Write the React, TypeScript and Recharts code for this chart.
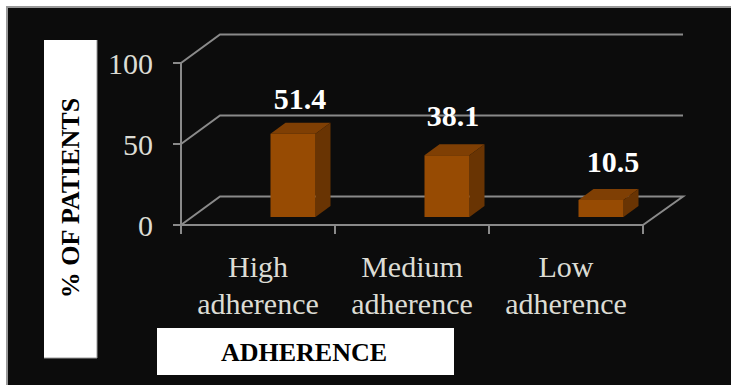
import React from 'react';
import {
  ComposedChart,
  Bar,
  XAxis,
  YAxis,
  CartesianGrid,
  LabelList,
} from 'recharts';

const categories = ['High adherence', 'Medium adherence', 'Low adherence'];
const patients = [51.4, 38.1, 10.5];
const yTicks = [0, 50, 100];

const data = categories.map((name, i) => ({ name, patients: patients[i] }));

const WIDTH = 731;
const HEIGHT = 385;
const PLOT = { left: 181, top: 63, width: 462, height: 162 };

// floor depth of the fake 3D box, and where the bars sit on that floor
const DEPTH_X = 39;
const DEPTH_Y = 28.5;
const BAR_SHIFT_X = 34.5;
const BAR_SHIFT_Y = -8;
const BAR_DEPTH_X = 15;
const BAR_DEPTH_Y = 11;

// the value labels were placed by hand, so each one has its own nudge
const LABEL_NUDGE = [
  [7, -25],
  [6, -29],
  [12, -28],
];

const SERIF = '"Liberation Serif", "Times New Roman", serif';
const GRID = '#8a8a8a';
const TEXT = '#dcdcd4';

function BackWallLine({ x1, y1, x2, key }: any) {
  const isFloor = Math.abs(y1 - (PLOT.top + PLOT.height)) < 1;
  const pts = [
    [x1, y1],
    [x1 + DEPTH_X, y1 - DEPTH_Y],
    [x2 + DEPTH_X + 1, y1 - DEPTH_Y],
  ];
  if (isFloor) pts.push([x2, y1]);
  return (
    <polyline
      key={key}
      points={pts.map((p) => p.join(',')).join(' ')}
      fill="none"
      stroke={GRID}
      strokeWidth={2}
    />
  );
}

function Box3D({ x, y, width, height }: any) {
  const l = x + BAR_SHIFT_X;
  const r = l + width;
  const t = y + BAR_SHIFT_Y;
  const b = t + height;
  const dx = BAR_DEPTH_X;
  const dy = BAR_DEPTH_Y;
  return (
    <g>
      <polygon
        points={`${l},${t} ${l + dx},${t - dy} ${r + dx},${t - dy} ${r},${t}`}
        fill="#7f3f04"
      />
      <polygon
        points={`${r},${t} ${r + dx},${t - dy} ${r + dx},${b - dy} ${r},${b}`}
        fill="#693403"
      />
      <rect x={l} y={t} width={width} height={height} fill="#974b03" />
    </g>
  );
}

function ValueLabel({ x, y, width, value, index }: any) {
  const [nx, ny] = LABEL_NUDGE[index];
  return (
    <text
      x={x + BAR_SHIFT_X + width / 2 + nx}
      y={y + BAR_SHIFT_Y + ny}
      textAnchor="middle"
      fontFamily={SERIF}
      fontWeight="bold"
      fontSize={30}
      fill="#ffffff"
    >
      {value}
    </text>
  );
}

function CategoryTick({ x, y, payload, index }: any) {
  const band = PLOT.width / categories.length;
  const [first, second] = String(payload.value).split(' ');
  const tickAt = (tx: number) => (
    <line x1={tx} y1={PLOT.top + PLOT.height} x2={tx} y2={PLOT.top + PLOT.height + 9} stroke={GRID} strokeWidth={2} />
  );
  return (
    <g>
      {tickAt(x - band / 2)}
      {index === categories.length - 1 && tickAt(x + band / 2)}
      <text textAnchor="middle" fontFamily={SERIF} fontSize={30} fill={TEXT}>
        <tspan x={x} y={y + 44}>{first}</tspan>
        <tspan x={x} y={y + 81}>{second}</tspan>
      </text>
    </g>
  );
}

function XTitle() {
  return (
    <g>
      <rect x={157} y={328} width={297} height={47} fill="#ffffff" />
      <text x={304} y={361} textAnchor="middle" fontFamily={SERIF} fontWeight="bold" fontSize={26} fill="#000">
        ADHERENCE
      </text>
    </g>
  );
}

function YTitle() {
  return (
    <g>
      <rect x={44} y={40} width={53} height={318} fill="#ffffff" />
      <path d="M97,40 V358 H44" fill="none" stroke="#999" strokeWidth={1} />
      <text
        transform="translate(79,198) rotate(-90)"
        textAnchor="middle"
        fontFamily={SERIF}
        fontWeight="bold"
        fontSize={26}
        fill="#000"
      >
        % OF PATIENTS
      </text>
    </g>
  );
}

export default function App() {
  return (
    <div style={{ position: 'absolute', left: 0, top: 0, width: WIDTH, height: HEIGHT, background: '#fff', overflow: 'hidden' }}>
      <div
        style={{
          position: 'absolute',
          left: 6,
          top: 6,
          right: 0,
          bottom: 0,
          background: '#0c0c0c',
          borderLeft: '2px solid #999',
          borderTop: '2px solid #999',
        }}
      />
      <div style={{ position: 'absolute', left: 0, top: 0 }}>
        <ComposedChart
          width={WIDTH}
          height={HEIGHT}
          data={data}
          margin={{ left: PLOT.left - 60, top: PLOT.top, right: WIDTH - PLOT.left - PLOT.width, bottom: 100 }}
          barSize={45}
        >
          <CartesianGrid vertical={false} horizontal={BackWallLine} />
          <XAxis
            dataKey="name"
            height={60}
            interval={0}
            axisLine={{ stroke: GRID, strokeWidth: 2 }}
            tickLine={false}
            tick={CategoryTick}
            label={<XTitle />}
          />
          <YAxis
            type="number"
            width={60}
            domain={[0, 100]}
            ticks={yTicks}
            axisLine={{ stroke: GRID, strokeWidth: 2 }}
            tickLine={{ stroke: GRID, strokeWidth: 2 }}
            tickSize={8}
            tickMargin={20}
            tick={{ fontFamily: SERIF, fontSize: 30, fill: TEXT }}
            label={<YTitle />}
          />
          <Bar dataKey="patients" shape={Box3D} isAnimationActive={false}>
            <LabelList dataKey="patients" content={ValueLabel} />
          </Bar>
        </ComposedChart>
      </div>
    </div>
  );
}
